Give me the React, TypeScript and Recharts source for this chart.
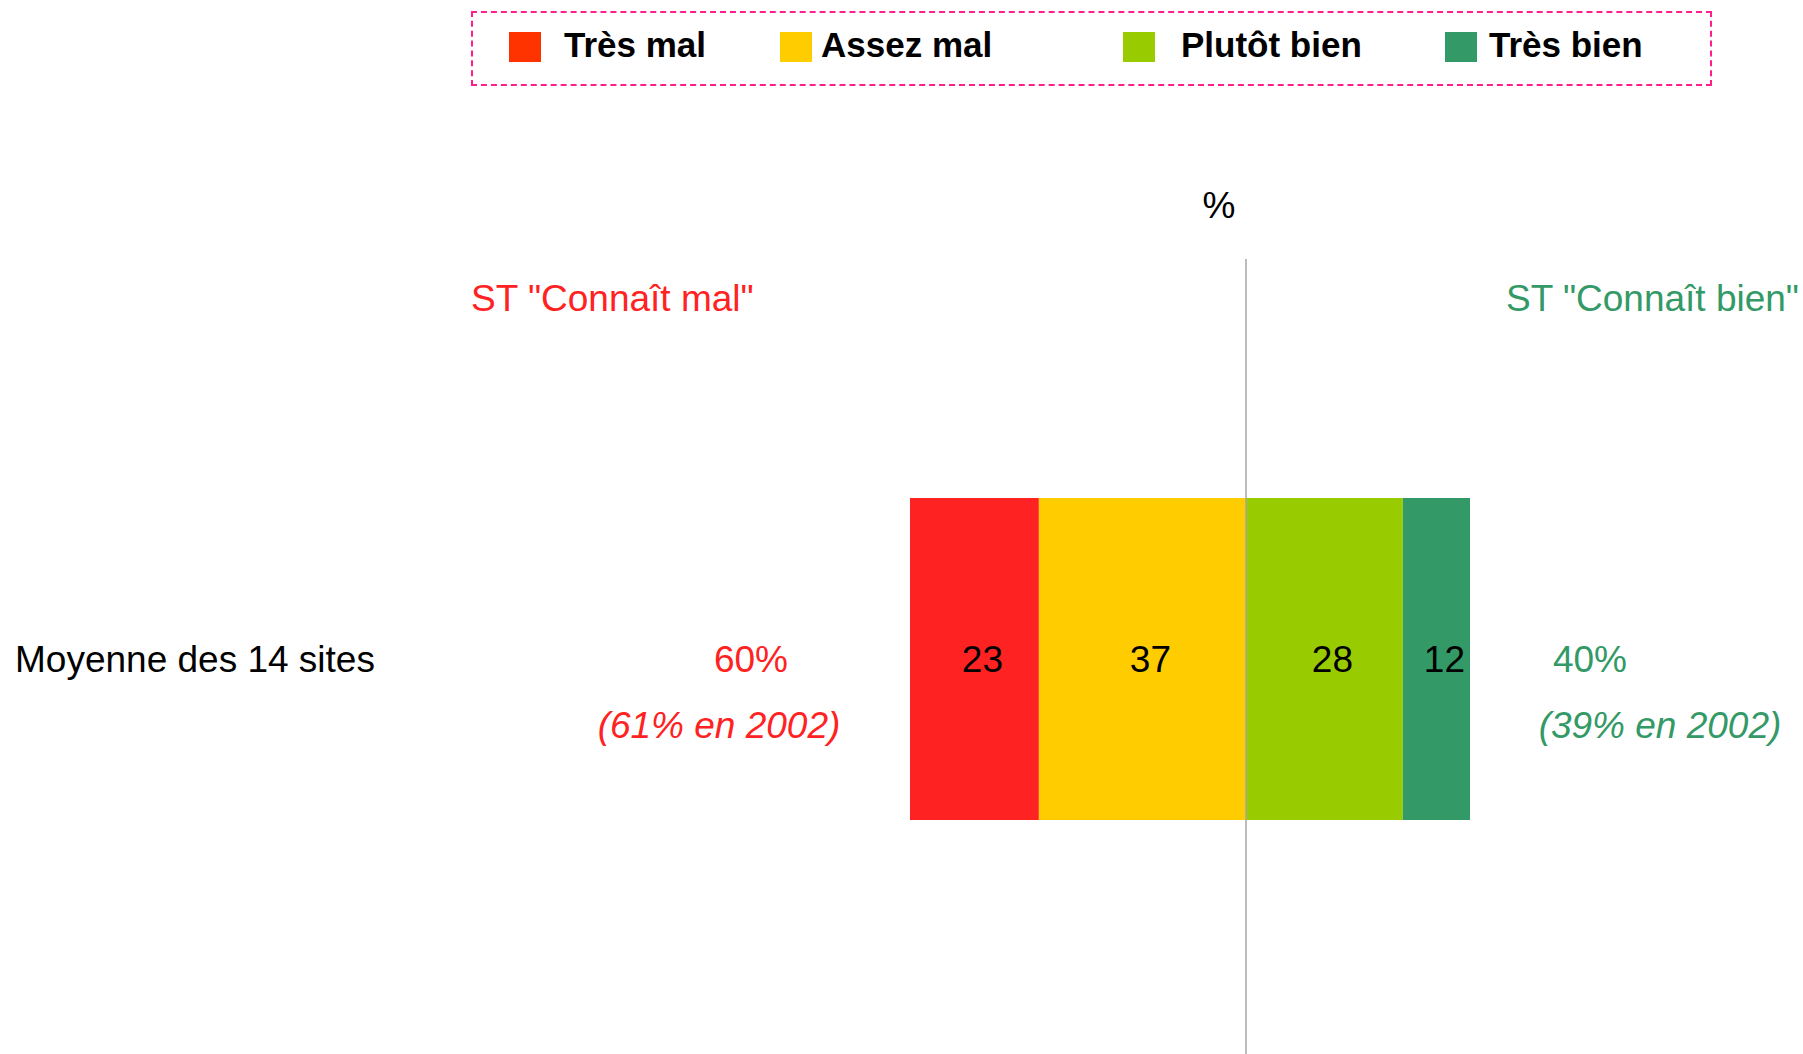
import React from 'react';
import { BarChart, Bar, XAxis, YAxis, ReferenceLine, LabelList } from 'recharts';

const categories = ['Moyenne des 14 sites'];
const tresMal = [23];
const assezMal = [37];
const plutotBien = [28];
const tresBien = [12];
const totalMal = [60];
const totalBien = [40];
const totalMal2002 = [61];
const totalBien2002 = [39];

const seriesNames = ['Très mal', 'Assez mal', 'Plutôt bien', 'Très bien'];
const barColors = ['#FF2222', '#FFCC00', '#99CC00', '#339966'];
const swatchColors = ['#FF3300', '#FFCC00', '#99CC00', '#339966'];

// legend item offsets inside the dashed box (swatch, text)
const legendSwatchX = [38, 309, 652, 974];
const legendTextX = [93, 350, 710, 1018];

const FONT = '"Liberation Sans", Arial, sans-serif';
const RED = '#FF2222';
const GREEN = '#339966';

const data = categories.map((name, i) => ({
  name,
  tresMal: -tresMal[i],
  assezMal: -assezMal[i],
  plutotBien: plutotBien[i],
  tresBien: tresBien[i],
  mal: totalMal[i],
  bien: totalBien[i],
  mal2002: totalMal2002[i],
  bien2002: totalBien2002[i],
}));

const CategoryTick = ({ y, payload }: { y?: number; payload?: { value: string } }) => (
  <text x={15} y={y} dy="0.34em" fontSize={37} fill="#000" fontFamily={FONT}>
    {payload?.value}
  </text>
);

const MalSummary = (props: any) => {
  const { x, y, width, height, index } = props;
  const left = Math.min(x, x + width);
  const cy = y + height / 2;
  const row = data[index];
  return (
    <g fontFamily={FONT} fontSize={37} fill={RED} textAnchor="middle">
      <text x={left - 159} y={cy} dy="0.34em">{`${row.mal}%`}</text>
      <text x={left - 191} y={cy + 66} dy="0.34em" fontStyle="italic">{`(${row.mal2002}% en 2002)`}</text>
    </g>
  );
};

const BienSummary = (props: any) => {
  const { x, y, width, height, index } = props;
  const right = Math.max(x, x + width);
  const cy = y + height / 2;
  const row = data[index];
  return (
    <g fontFamily={FONT} fontSize={37} fill={GREEN} textAnchor="middle">
      <text x={right + 120} y={cy} dy="0.34em">{`${row.bien}%`}</text>
      <text x={right + 190} y={cy + 66} dy="0.34em" fontStyle="italic">{`(${row.bien2002}% en 2002)`}</text>
    </g>
  );
};

const ChartLegend = () => (
  <div
    style={{
      position: 'absolute',
      left: 471,
      top: 11,
      width: 1241,
      height: 75,
      boxSizing: 'border-box',
      border: '2px dashed #FF1E8C',
      fontFamily: FONT,
    }}
  >
    {seriesNames.map((n, i) => (
      <React.Fragment key={n}>
        <div
          style={{
            position: 'absolute',
            left: legendSwatchX[i] - 2,
            top: 19,
            width: 32,
            height: 30,
            background: swatchColors[i],
          }}
        />
        <div
          style={{
            position: 'absolute',
            left: legendTextX[i] - 2,
            top: 12,
            fontSize: 35,
            fontWeight: 'bold',
            lineHeight: '40px',
            color: '#000',
            whiteSpace: 'nowrap',
          }}
        >
          {n}
        </div>
      </React.Fragment>
    ))}
  </div>
);

const textStyle: React.CSSProperties = {
  position: 'absolute',
  fontFamily: FONT,
  fontSize: 37,
  lineHeight: '42px',
  whiteSpace: 'nowrap',
};

export default function App() {
  return (
    <div
      style={{
        position: 'absolute',
        left: 0,
        top: 0,
        width: 1803,
        height: 1054,
        overflow: 'hidden',
        background: '#fff',
      }}
    >
      <ChartLegend />
      <div style={{ ...textStyle, left: 1219, top: 185, transform: 'translateX(-50%)', color: '#000' }}>%</div>
      <div style={{ ...textStyle, left: 471, top: 278, color: RED }}>ST "Connaît mal"</div>
      <div style={{ ...textStyle, left: 1506, top: 278, color: GREEN }}>ST "Connaît bien"</div>
      <BarChart
        width={1803}
        height={1064}
        layout="vertical"
        data={data}
        stackOffset="sign"
        margin={{ top: 259, right: 333, bottom: 5, left: 0 }}
      >
        <XAxis type="number" domain={[-60, 40]} hide />
        <YAxis
          type="category"
          dataKey="name"
          width={910}
          axisLine={false}
          tickLine={false}
          tick={<CategoryTick />}
        />
        <Bar dataKey="assezMal" name={seriesNames[1]} stackId="a" fill={barColors[1]} barSize={322} isAnimationActive={false}>
          <LabelList dataKey="assezMal" position="center" dx={8} formatter={(v: any) => Math.abs(v)} fill="#000" fontSize={37} fontFamily={FONT} />
        </Bar>
        <Bar dataKey="tresMal" name={seriesNames[0]} stackId="a" fill={barColors[0]} barSize={322} isAnimationActive={false}>
          <LabelList dataKey="tresMal" position="center" dx={8} formatter={(v: any) => Math.abs(v)} fill="#000" fontSize={37} fontFamily={FONT} />
          <LabelList dataKey="mal" content={<MalSummary />} />
        </Bar>
        <Bar dataKey="plutotBien" name={seriesNames[2]} stackId="a" fill={barColors[2]} barSize={322} isAnimationActive={false}>
          <LabelList dataKey="plutotBien" position="center" dx={8} fill="#000" fontSize={37} fontFamily={FONT} />
        </Bar>
        <Bar dataKey="tresBien" name={seriesNames[3]} stackId="a" fill={barColors[3]} barSize={322} isAnimationActive={false}>
          <LabelList dataKey="tresBien" position="center" dx={8} fill="#000" fontSize={37} fontFamily={FONT} />
          <LabelList dataKey="bien" content={<BienSummary />} />
        </Bar>
        <ReferenceLine x={0} stroke="#A6A6A6" strokeWidth={1.5} />
      </BarChart>
    </div>
  );
}
